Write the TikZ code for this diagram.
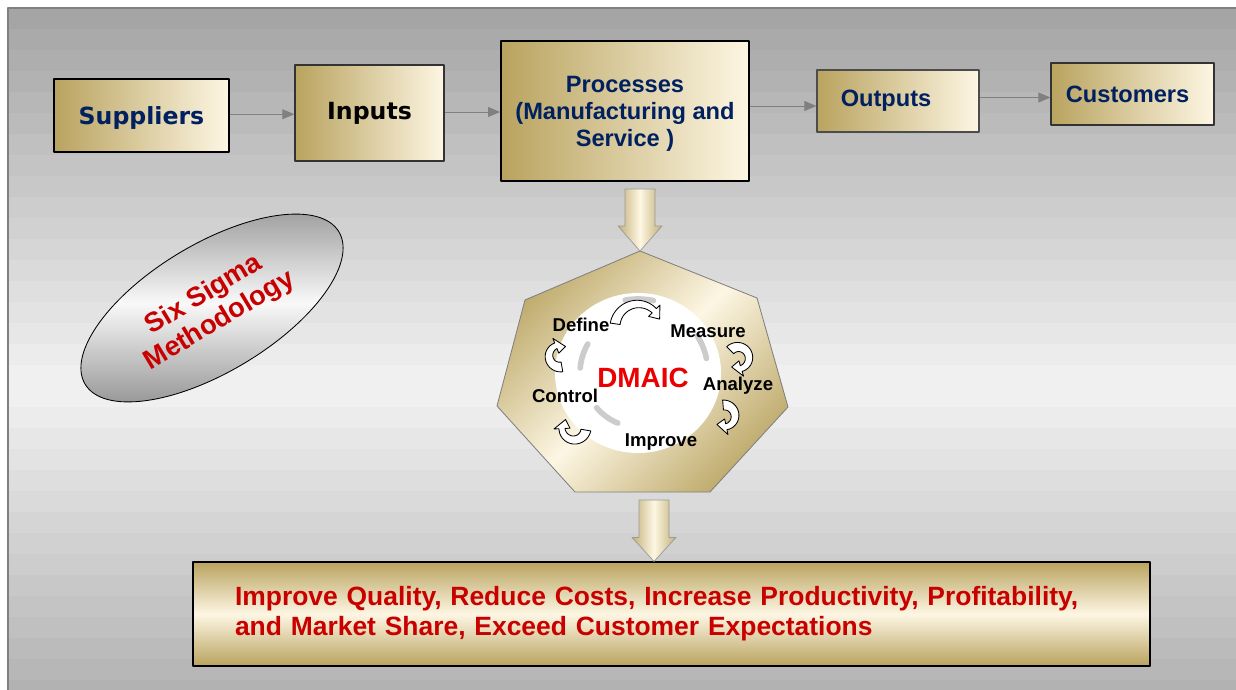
\documentclass[tikz,border=0pt]{standalone}
\usepackage{fontspec}
\setmainfont{Liberation Sans}
\newfontfamily\verdfont{DejaVu Sans}
\usepackage{tikz}
\usetikzlibrary{arrows.meta,calc,positioning,shapes.geometric}

\definecolor{golddark}{RGB}{185,163,95}
\definecolor{goldcream}{RGB}{253,246,227}
\definecolor{navytext}{RGB}{0,32,96}
\definecolor{redtext}{RGB}{200,0,0}
\definecolor{dmaicred}{RGB}{235,0,0}
\definecolor{silveredge}{RGB}{150,150,150}

\newcommand\pxl{0.025cm}
% tapering curved arrow: centre x, centre y, radius, start angle, end angle
\newcommand\turnarrow[5]{%
  \pgfmathsetmacro\turnbase{#5-10/#3*57.3}%
  \draw[turn] plot[domain=#4:\turnbase,samples=24]
      ({#1+(#3+5-2*(\x-(#4))/(\turnbase-(#4)))*cos(\x)},{#2+(#3+5-2*(\x-(#4))/(\turnbase-(#4)))*sin(\x)})
    -- ({#1+(#3+8)*cos(\turnbase)},{#2+(#3+8)*sin(\turnbase)})
    -- ({#1+#3*cos(#5)},{#2+#3*sin(#5)})
    -- ({#1+(#3-8)*cos(\turnbase)},{#2+(#3-8)*sin(\turnbase)})
    -- plot[domain=\turnbase:#4,samples=24]
      ({#1+(#3-5+2*(\x-(#4))/(\turnbase-(#4)))*cos(\x)},{#2+(#3-5+2*(\x-(#4))/(\turnbase-(#4)))*sin(\x)})
    -- cycle;}

\begin{document}
\begin{tikzpicture}[x=0.025cm,y=-0.025cm,line join=round,
  box/.style={draw=black,line width=0.8pt,left color=golddark,right color=goldcream,
    text=navytext,align=center,font=\bfseries\fontsize{16.8pt}{19.2pt}\selectfont},
  verd/.style={font=\verdfont\bfseries\fontsize{16.8pt}{19.2pt}\selectfont},
  flow/.style={draw=gray,line width=0.7pt,-{Triangle[length=8.5pt,width=7pt]}},
  fatarrow/.style={draw=gray!80,line width=0.5pt,left color=golddark!85!white,
    right color=golddark!85!white,middle color=goldcream},
  turn/.style={draw=black,line width=0.6pt,fill=white},
  cyclabel/.style={font=\bfseries\fontsize{13.2pt}{15pt}\selectfont},
  groove/.style={draw=gray!40,line width=4pt,line cap=round}]
\useasboundingbox (0,0) rectangle (1236,690);

% striped grey backdrop
\begin{scope}
\clip (8,8) rectangle (1236,690);
\foreach \i in {0,...,32}{
  \pgfmathsetmacro\yy{8+21*\i}
  \pgfmathsetmacro\lev{0.64+0.31*(1-abs(\yy+10-385)/377)}
  \definecolor{band}{gray}{\lev}
  \fill[band] (8,\yy) rectangle (1236,\yy+21.5);
}
\end{scope}
\draw[gray,line width=0.9pt] (8,690) -- (8,8) -- (1236,8);

% chain along the top
\node[box,verd,text depth=0pt,minimum width=175*\pxl,minimum height=73*\pxl] (sup) at (141.5,115.5) {Suppliers};
\node[box,verd,text=black,draw=black!80,minimum width=149*\pxl,minimum height=96*\pxl] (inp) at (369.5,113) {Inputs};
\node[box,line width=1.3pt,text depth=0pt,minimum width=248*\pxl,minimum height=140*\pxl] (proc) at (625,111) {Processes\\(Manufacturing and\\Service )};
\node[box,draw=black!70,minimum width=162*\pxl,minimum height=62*\pxl] (out) at (898,101) {Outputs\kern17pt};
\node[box,draw=black!80,minimum width=163*\pxl,minimum height=62*\pxl] (cust) at (1132.5,94) {Customers\kern7pt};
\foreach \a/\b in {sup/inp,inp/proc,proc/out,out/cust}{
  \coordinate (m) at ($(\a.east)!.5!(\b.west)$);
  \draw[flow] (\a.east |- m) -- (\b.west |- m);
}

% heptagon
\coordinate (hN) at (640,251);
\coordinate (hNE) at (757,298);
\coordinate (hE) at (788,407);
\coordinate (hSE) at (710,492);
\coordinate (hSW) at (575,492);
\coordinate (hW) at (497,406);
\coordinate (hNW) at (525,300);
\draw[draw=gray,line width=0.6pt,top color=golddark!90!white,bottom color=golddark!90!white,
  middle color=goldcream,shading angle=45] (hN) -- (hNE) -- (hE) -- (hSE) -- (hSW) -- (hW) -- (hNW) -- cycle;

\coordinate (dm) at (638,373);
\fill[white] (dm) ellipse[x radius=83,y radius=80];
\draw[groove] ($(dm)+(-175:58)$) arc[start angle=-175,end angle=-150,radius=58];
\draw[groove] ($(dm)+(-32:70)$) arc[start angle=-32,end angle=-12,radius=70];
\draw[groove] ($(dm)+(112:54)$) arc[start angle=112,end angle=140,radius=54];
\draw[groove] ($(dm)+(-100:74)$) arc[start angle=-100,end angle=-78,radius=74];

% the five turning arrows
\foreach \cx/\cy/\r/\sa/\ea in {638/327/23/-172/-20,738/358/11/-135/125,724/416/11/-95/130,
    574/428/12/10/225,560/356/11/80/300}{
  \turnarrow{\cx}{\cy}{\r}{\sa}{\ea}
}

\node[cyclabel] (def) at (581,325) {Define};
\node[cyclabel] (mea) at (708,331) {Measure};
\node[cyclabel] (ana) at (738,386) {Analyze};
\node[cyclabel] (imp) at (661,442) {Improve};
\node[cyclabel] (ctl) at (565,396) {Control};
\node[font=\bfseries\fontsize{19.8pt}{22pt}\selectfont,text=dmaicred] (dmaic) at (643,378) {DMAIC};

% result box
\node[draw=black,line width=0.8pt,top color=golddark,bottom color=golddark,middle color=goldcream,
  text=redtext,font=\bfseries\fontsize{18.8pt}{21.3pt}\selectfont,align=left,
  text width=873*\pxl,inner xsep=42*\pxl,minimum height=104*\pxl] (res) at (671.5,614)
  {Improve Quality, Reduce Costs, Increase Productivity, Profitability,\\and Market Share, Exceed Customer Expectations};

% big down arrows
\coordinate (a1) at (hN |- proc.south);
\draw[fatarrow] ($(a1)+(-15,7)$) -- ($(a1)+(15,7)$) -- ($(hN)+(15,-25)$) -- ($(hN)+(22,-25)$)
  -- (hN) -- ($(hN)+(-22,-25)$) -- ($(hN)+(-15,-25)$) -- cycle;
\coordinate (a2) at (654,500);
\coordinate (a2tip) at (a2 |- res.north);
\draw[fatarrow] ($(a2)+(-15,0)$) -- ($(a2)+(15,0)$) -- ($(a2tip)+(15,-24)$) -- ($(a2tip)+(22,-24)$)
  -- (a2tip) -- ($(a2tip)+(-22,-24)$) -- ($(a2tip)+(-15,-24)$) -- cycle;

% six sigma badge
\node[ellipse,draw=black,line width=0.6pt,rotate=31,minimum width=296*\pxl,minimum height=128*\pxl,
  top color=silveredge,bottom color=silveredge,middle color=white!95!gray,text=redtext,
  font=\bfseries\fontsize{19.4pt}{21.5pt}\selectfont,align=center,inner sep=0pt] (six) at (212,308)
  {Six Sigma\\Methodology};
\end{tikzpicture}
\end{document}
